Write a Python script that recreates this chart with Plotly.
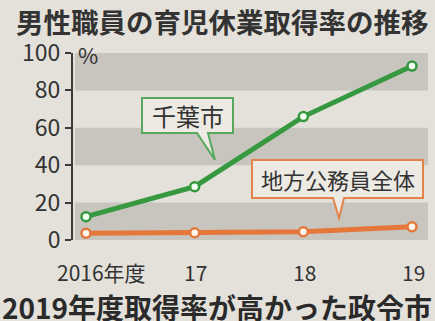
import plotly.graph_objects as go

years = ["2016年度", "17", "18", "19"]
chiba = [12.5, 28.5, 66, 93]
local_all = [3.6, 3.9, 4.4, 7.1]
y_ticks = [0, 20, 40, 60, 80, 100]

W, H = 435, 321
L, R, T, B = 73, 7, 53, 81
X0PX, XSTEP = 86, 108.67
Y0PX, YSTEP = 240, 1.87

def px2x(px):
    return (px - X0PX) / XSTEP

def py2y(py):
    return (Y0PX - py) / YSTEP

def ppx(px):
    return (px - L) / (W - L - R)

def ppy(py):
    return (H - B - py) / (H - T - B)

BG = "#e4e1da"
BAND = "#c8c5be"
GREEN = "#36983f"
ORANGE = "#e5773a"
TXT = "#333333"
JP = "Noto Sans CJK JP"

xs = list(range(len(years)))
fig = go.Figure()

fig.add_trace(go.Scatter(x=xs, y=local_all, mode="lines+markers",
                         line=dict(color=ORANGE, width=5),
                         marker=dict(size=9, color="#fff6ee", line=dict(color=ORANGE, width=2.5)),
                         cliponaxis=False, showlegend=False))
fig.add_trace(go.Scatter(x=xs, y=chiba, mode="lines+markers",
                         line=dict(color=GREEN, width=5),
                         marker=dict(size=9, color="#f2fff0", line=dict(color=GREEN, width=2.5)),
                         cliponaxis=False, showlegend=False))
# small dots under the x axis
fig.add_trace(go.Scatter(x=xs, y=[py2y(252)] * len(xs), mode="markers",
                         marker=dict(size=6, color="#2a2a2a"),
                         cliponaxis=False, showlegend=False, hoverinfo="skip"))

shapes = []
for lo, hi in [(0, 20), (40, 60), (80, 100)]:
    shapes.append(dict(type="rect", xref="x", yref="y", x0=px2x(75), x1=px2x(428),
                       y0=lo, y1=hi, fillcolor=BAND, line=dict(width=0), layer="below"))

def bubble(x0, x1, y0, y1, t0, t1, tipx, tipy, color):
    p = (f"M {px2x(x0)},{py2y(y0)} L {px2x(x1)},{py2y(y0)} L {px2x(x1)},{py2y(y1)} "
         f"L {px2x(t1)},{py2y(y1)} L {px2x(tipx)},{py2y(tipy)} L {px2x(t0)},{py2y(y1)} "
         f"L {px2x(x0)},{py2y(y1)} Z")
    return dict(type="path", xref="x", yref="y", path=p, fillcolor="#eceae3",
                line=dict(color=color, width=2), layer="above")

shapes.append(bubble(142, 233, 98, 133, 197, 208, 215, 160, "#55a85c"))
shapes.append(bubble(252, 423, 160, 198, 333, 344, 339, 218, "#e3834a"))

annotations = [
    dict(text="男性職員の育児休業取得率の推移", x=ppx(14), y=ppy(21), xref="paper", yref="paper",
         xanchor="left", yanchor="middle", showarrow=False,
         font=dict(family=JP, size=27.5, color=TXT, weight="bold")),
    dict(text="2019年度取得率が高かった政令市", x=ppx(0), y=ppy(307), xref="paper", yref="paper",
         xanchor="left", yanchor="middle", showarrow=False,
         font=dict(family=JP, size=28, color="#2a2a2a", weight="bold")),
    dict(text="%", x=ppx(76), y=ppy(54), xref="paper", yref="paper", xanchor="left", yanchor="middle",
         showarrow=False, font=dict(family=JP, size=22, color=TXT)),
    dict(text="千葉市", x=px2x(187.5), y=py2y(115.5), xref="x", yref="y", showarrow=False,
         font=dict(family=JP, size=24, color=TXT)),
    dict(text="地方公務員全体", x=px2x(337.5), y=py2y(179), xref="x", yref="y", showarrow=False,
         font=dict(family=JP, size=22, color=TXT)),
]
for i, lab in enumerate(years):
    annotations.append(dict(text=lab, x=xs[i], y=0, xref="x", yref="y",
                            xanchor="left" if i == 0 else "center", yanchor="middle",
                            xshift=-31 if i == 0 else 1, yshift=-32, showarrow=False,
                            font=dict(family=JP, size=21, color=TXT)))

fig.update_layout(
    width=W, height=H, margin=dict(l=L, r=R, t=T, b=B),
    paper_bgcolor=BG, plot_bgcolor=BG,
    shapes=shapes, annotations=annotations, showlegend=False,
    xaxis=dict(range=[px2x(73), px2x(428)], showgrid=False, zeroline=False,
               showticklabels=False, ticks="", showline=False, fixedrange=True),
    yaxis=dict(range=[0, 100], tickvals=y_ticks, ticktext=[str(v) for v in y_ticks],
               showgrid=False, zeroline=False, showline=True, linecolor="#3a3a3a", linewidth=2,
               ticks="outside", ticklen=6, tickwidth=2, tickcolor="#3a3a3a",
               tickfont=dict(family=JP, size=23, color=TXT), fixedrange=True),
)

fig.write_html("out.html", config={"displayModeBar": False})
